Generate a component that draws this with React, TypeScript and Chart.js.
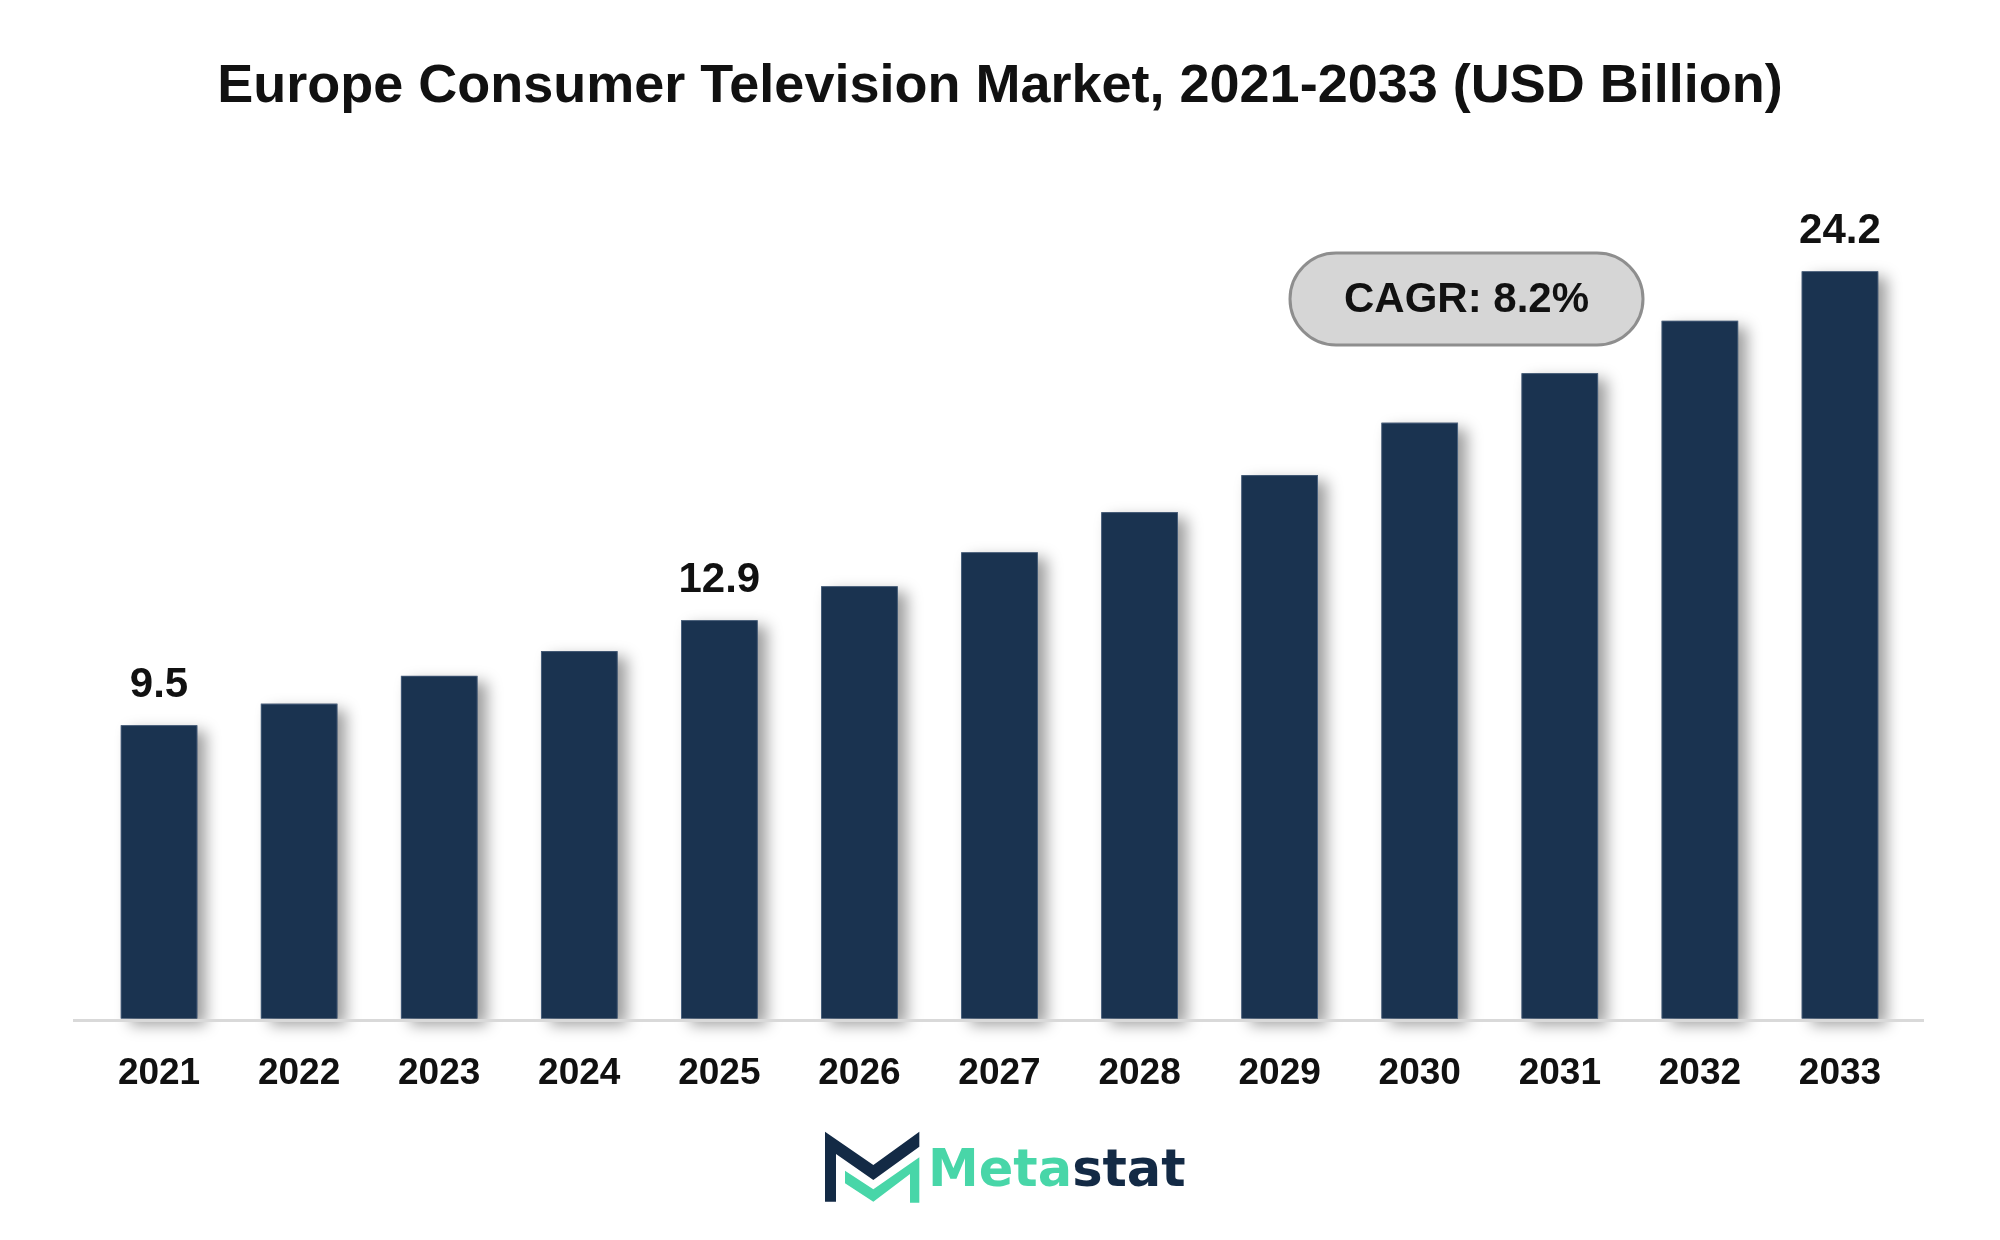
import React, { useEffect, useRef } from "react";
import { Chart, registerables } from "chart.js";

Chart.register(...registerables);

const TITLE = "Europe Consumer Television Market, 2021-2033 (USD Billion)";
const YEARS = ["2021", "2022", "2023", "2024", "2025", "2026", "2027", "2028", "2029", "2030", "2031", "2032", "2033"];
const VALUES = [9.5, 10.2, 11.1, 11.9, 12.9, 14.0, 15.1, 16.4, 17.6, 19.3, 20.9, 22.6, 24.2];
const LABELED_INDEXES = [0, 4, 12];
const CAGR_TEXT = "CAGR: 8.2%";
const LOGO_LEFT = "Meta";
const LOGO_RIGHT = "stat";

const FONT = "'Liberation Sans', Arial, sans-serif";
const BAR_COLOR = "#1a3350";

const decorPlugin = {
  id: "decor",
  beforeDatasetsDraw(chart: any) {
    const ctx = chart.ctx;
    const area = chart.chartArea;
    const meta = chart.getDatasetMeta(0);
    // soft shadows behind bars
    ctx.save();
    ctx.shadowColor = "rgba(0,0,0,0.38)";
    ctx.shadowBlur = 14;
    ctx.shadowOffsetX = 9;
    ctx.shadowOffsetY = 6;
    ctx.fillStyle = BAR_COLOR;
    meta.data.forEach((el: any) => {
      const p = el.getProps(["x", "y", "base", "width"], true);
      ctx.fillRect(p.x - p.width / 2, p.y, p.width, p.base - p.y);
    });
    ctx.restore();
    // axis line
    ctx.save();
    ctx.strokeStyle = "#d9d9d9";
    ctx.lineWidth = 3;
    ctx.beginPath();
    ctx.moveTo(area.left - 16, area.bottom + 2);
    ctx.lineTo(area.right + 14, area.bottom + 2);
    ctx.stroke();
    ctx.restore();
  },
  afterDatasetsDraw(chart: any) {
    const ctx = chart.ctx;
    const meta = chart.getDatasetMeta(0);
    ctx.save();
    ctx.fillStyle = "#111111";
    ctx.font = `bold 42px ${FONT}`;
    ctx.textAlign = "center";
    ctx.textBaseline = "middle";
    LABELED_INDEXES.forEach((i) => {
      const el = meta.data[i];
      ctx.fillText(String(VALUES[i]), el.x, el.y - 40);
    });
    ctx.restore();

    ctx.save();
    ctx.fillStyle = "#111111";
    ctx.font = `bold 54px ${FONT}`;
    ctx.textAlign = "center";
    ctx.textBaseline = "middle";
    ctx.fillText(TITLE, 1000, 87);
    ctx.restore();

    const px = 1290, py = 253, pw = 353, ph = 92, r = ph / 2;
    ctx.save();
    ctx.beginPath();
    ctx.moveTo(px + r, py);
    ctx.lineTo(px + pw - r, py);
    ctx.arc(px + pw - r, py + r, r, -Math.PI / 2, Math.PI / 2);
    ctx.lineTo(px + r, py + ph);
    ctx.arc(px + r, py + r, r, Math.PI / 2, (3 * Math.PI) / 2);
    ctx.closePath();
    ctx.fillStyle = "#d6d6d6";
    ctx.fill();
    ctx.strokeStyle = "#8e8e8e";
    ctx.lineWidth = 3;
    ctx.stroke();
    ctx.fillStyle = "#111111";
    ctx.font = `bold 42px ${FONT}`;
    ctx.textAlign = "center";
    ctx.textBaseline = "middle";
    ctx.fillText(CAGR_TEXT, px + pw / 2, py + ph / 2 + 1);
    ctx.restore();

    const ox = 800, oy = 1100, s = 1 / 3;
    const P = (pts: number[][]) => {
      ctx.beginPath();
      pts.forEach(([x, y], k) => {
        const X = ox + x * s, Y = oy + y * s;
        if (k === 0) ctx.moveTo(X, Y); else ctx.lineTo(X, Y);
      });
      ctx.closePath();
      ctx.fill();
    };
    ctx.save();
    ctx.fillStyle = "#132a45";
    P([[75, 95], [220, 195], [358, 95], [358, 140], [220, 240], [108, 162], [108, 305], [75, 305]]);
    ctx.fillStyle = "#48d6a8";
    P([[135, 212], [220, 268], [358, 172], [358, 308], [330, 308], [330, 222], [220, 305], [135, 250]]);
    ctx.font = `bold 51px 'DejaVu Sans', sans-serif`;
    ctx.textAlign = "left";
    ctx.textBaseline = "alphabetic";
    ctx.fillStyle = "#48d6a8";
    const tx = 928, ty = 1186;
    ctx.fillText(LOGO_LEFT, tx, ty);
    const w = ctx.measureText(LOGO_LEFT).width;
    ctx.fillStyle = "#132a45";
    ctx.fillText(LOGO_RIGHT, tx + w, ty);
    ctx.restore();
  },
};

export default function App() {
  const ref = useRef<HTMLCanvasElement | null>(null);
  useEffect(() => {
    document.body.style.margin = "0";
    const chart = new Chart(ref.current as HTMLCanvasElement, {
      type: "bar",
      data: {
        labels: YEARS,
        datasets: [
          {
            data: VALUES,
            backgroundColor: BAR_COLOR,
            borderColor: "#4d6480",
            borderWidth: 1,
            categoryPercentage: 1,
            barPercentage: 0.547,
          },
        ],
      },
      options: {
        animation: false,
        responsive: false,
        devicePixelRatio: 1,
        layout: { padding: { top: 154, left: 89, right: 90, bottom: 111 } },
        plugins: { legend: { display: false }, title: { display: false }, tooltip: { enabled: false } },
        scales: {
          x: {
            grid: { display: false, drawTicks: false },
            border: { display: false },
            ticks: {
              color: "#111111",
              font: { family: FONT, size: 37, weight: "bold" },
              padding: 33,
              maxRotation: 0,
            },
          },
          y: { display: false, min: 0, max: 28 },
        },
      },
      plugins: [decorPlugin],
    });
    return () => chart.destroy();
  }, []);
  return (
    <div style={{ position: "absolute", left: 0, top: 0, width: 2000, height: 1240, background: "#fff" }}>
      <canvas ref={ref} width={2000} height={1240} />
    </div>
  );
}
